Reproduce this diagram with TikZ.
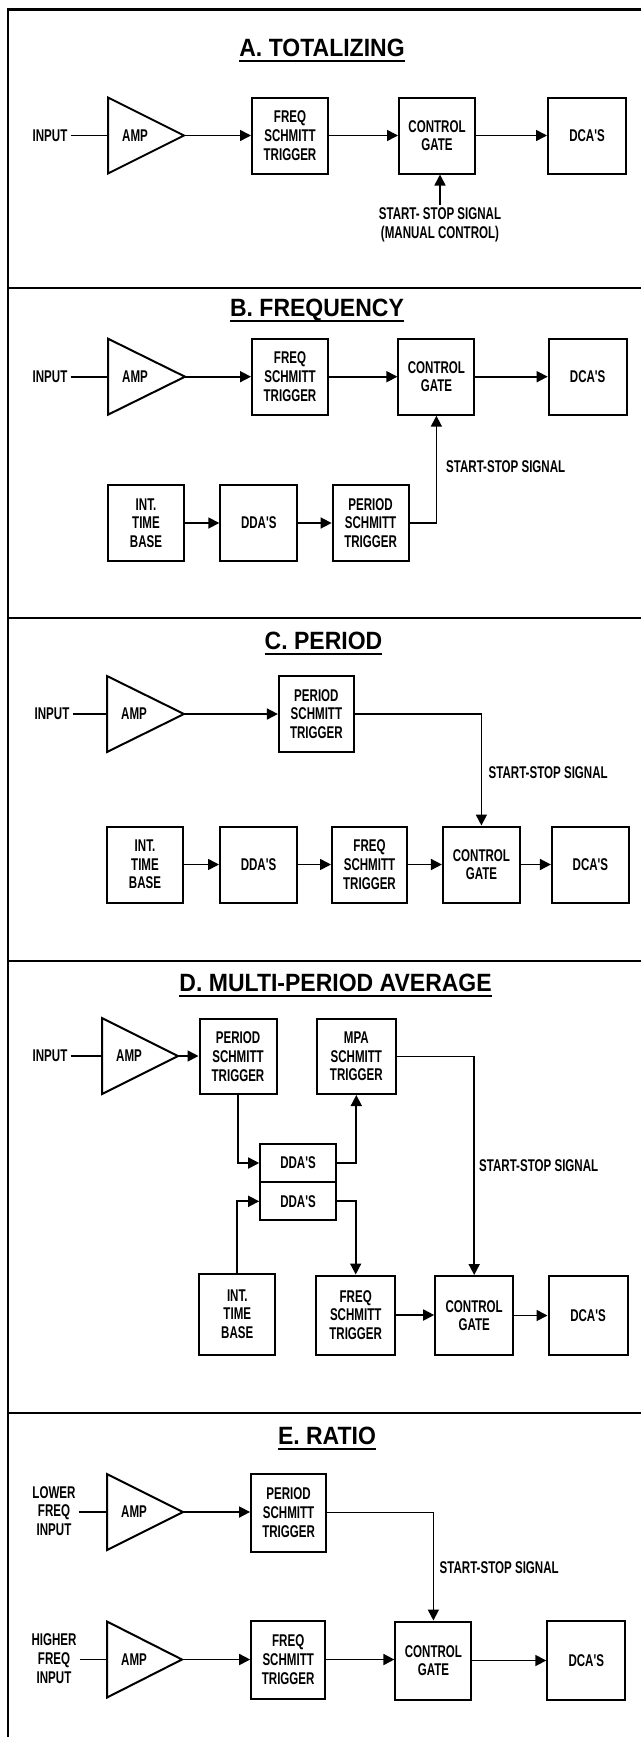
\documentclass[tikz,border=0pt]{standalone}
\usepackage{fontspec}
\newfontfamily\lblfont[FakeStretch=0.68]{Liberation Sans}
\newfontfamily\ttlfont[FakeStretch=0.92]{Liberation Sans}
\usetikzlibrary{arrows.meta}
\tikzset{
  blk/.style={draw, line width=2pt, minimum width=76pt, minimum height=76pt, inner sep=0pt, align=center,
    font=\lblfont\bfseries\fontsize{17}{18.7}\selectfont},
  lbl/.style={inner sep=3pt, align=center, font=\lblfont\bfseries\fontsize{17}{18.7}\selectfont},
  ttl/.style={inner sep=0pt, font=\ttlfont\bfseries\fontsize{25}{28}\selectfont},
  wire/.style={line width=1.7pt},
  arr/.style={wire, -{Triangle[length=11pt,width=11pt]}},
  divider/.style={line width=2pt},
}
\newcommand\ampsym[4]{%
  \draw[line width=2pt, line join=miter] (#2,#3-38) -- (#2+#4,#3) -- (#2,#3+38) -- cycle;
  \coordinate (#1-in) at (#2,#3);
  \coordinate (#1-out) at (#2+#4,#3);
  \node[lbl] (#1) at (#2+27,#3) {AMP};
}
\newcommand\paneltitle[4]{%
  \node[ttl, anchor=base] (#1) at (#2,#3) {#4};
  \draw[line width=2pt] ([yshift=-4.5pt]#1.base west) -- ([yshift=-4.5pt]#1.base east);
}
\begin{document}
\begin{tikzpicture}[x=1pt,y=-1pt]
\useasboundingbox (0,0) rectangle (641,1737);
\fill[white] (0,0) rectangle (641,1737);
% frame and dividers
\draw[divider, line width=2.4pt] (641,9.5) -- (8,9.5) -- (8,1737);
\draw[divider] (8,288) -- (641,288);
\draw[divider] (8,618) -- (641,618);
\draw[divider] (8,961) -- (641,961);
\draw[divider] (8,1413) -- (641,1413);

% ---------------- A. TOTALIZING
\paneltitle{tA}{322}{56.5}{A.\ TOTALIZING}
\node[lbl] (inA) at (50,135.5) {INPUT};
\ampsym{ampA}{108}{135.5}{76}
\node[blk] (frA) at (290,135.5) {FREQ\\SCHMITT\\TRIGGER};
\node[blk] (cgA) at (437,135.5) {CONTROL\\GATE};
\node[blk, minimum width=78pt] (dcA) at (587,135.5) {DCA'S};
\node[lbl] (sgA) at (440,225) {START- STOP SIGNAL\\(MANUAL CONTROL)};
\draw[wire] (inA.east) -- (ampA-in);
\draw[arr] (ampA-out) -- (frA.west);
\draw[arr] (frA.east) -- (cgA.west);
\draw[arr] (cgA.east) -- (dcA.west);
\draw[arr] (sgA.north) -- (sgA.north |- cgA.south);

% ---------------- B. FREQUENCY
\paneltitle{tB}{317}{316}{B.\ FREQUENCY}
\node[lbl] (inB) at (50,376.7) {INPUT};
\ampsym{ampB}{108}{376.7}{77}
\node[blk] (frB) at (290,376.7) {FREQ\\SCHMITT\\TRIGGER};
\node[blk] (cgB) at (436.4,376.7) {CONTROL\\GATE};
\node[blk, minimum width=78pt] (dcB) at (587.7,376.7) {DCA'S};
\node[blk] (itB) at (146,523) {INT.\\TIME\\BASE};
\node[blk, minimum width=77pt] (ddB) at (258.8,523) {DDA'S};
\node[blk] (pSB) at (370.6,523) {PERIOD\\SCHMITT\\TRIGGER};
\node[lbl, anchor=west] (sgB) at (443,467) {START-STOP SIGNAL};
\draw[wire] (inB.east) -- (ampB-in);
\draw[arr] (ampB-out) -- (frB.west);
\draw[arr] (frB.east) -- (cgB.west);
\draw[arr] (cgB.east) -- (dcB.west);
\draw[arr] (itB.east) -- (ddB.west);
\draw[arr] (ddB.east) -- (pSB.west);
\draw[arr] (pSB.east) -| (cgB.south);

% ---------------- C. PERIOD
\paneltitle{tC}{323.5}{649.3}{C.\ PERIOD}
\node[lbl] (inC) at (52,714) {INPUT};
\ampsym{ampC}{107}{714}{77}
\node[blk, minimum width=75pt] (pSC) at (316.4,714) {PERIOD\\SCHMITT\\TRIGGER};
\node[blk] (itC) at (145,864.5) {INT.\\TIME\\BASE};
\node[blk, minimum width=77pt] (ddC) at (258.5,864.5) {DDA'S};
\node[blk, minimum width=75pt] (frC) at (369.5,864.5) {FREQ\\SCHMITT\\TRIGGER};
\node[blk, minimum width=77pt] (cgC) at (481.4,864.5) {CONTROL\\GATE};
\node[blk, minimum width=77pt] (dcC) at (590.4,864.5) {DCA'S};
\node[lbl, anchor=west] (sgC) at (485.5,772.5) {START-STOP SIGNAL};
\draw[wire] (inC.east) -- (ampC-in);
\draw[arr] (ampC-out) -- (pSC.west);
\draw[arr] (pSC.east) -| (cgC.north);
\draw[arr] (itC.east) -- (ddC.west);
\draw[arr] (ddC.east) -- (frC.west);
\draw[arr] (frC.east) -- (cgC.west);
\draw[arr] (cgC.east) -- (dcC.west);

% ---------------- D. MULTI-PERIOD AVERAGE
\paneltitle{tD}{335.6}{991.7}{D.\ MULTI-PERIOD AVERAGE}
\node[lbl] (inD) at (50,1056) {INPUT};
\ampsym{ampD}{102}{1056}{76}
\node[blk, minimum width=77pt, minimum height=75pt] (pSD) at (238,1056.5) {PERIOD\\SCHMITT\\TRIGGER};
\node[blk, minimum width=79pt, minimum height=75pt] (mpD) at (356.3,1056.5) {MPA\\SCHMITT\\TRIGGER};
\node[blk, minimum width=75.6pt, minimum height=38.3pt] (duD) at (298,1163) {DDA'S};
\node[blk, minimum width=75.6pt, minimum height=38.3pt] (dlD) at (298,1201.3) {DDA'S};
\node[blk, minimum width=76pt, minimum height=81pt] (itD) at (237.3,1314) {INT.\\TIME\\BASE};
\node[blk, minimum width=79pt, minimum height=79pt] (frD) at (355.7,1315) {FREQ\\SCHMITT\\TRIGGER};
\node[blk, minimum width=78pt, minimum height=79pt] (cgD) at (474.2,1315.5) {CONTROL\\GATE};
\node[blk, minimum width=79pt, minimum height=79pt] (dcD) at (588,1315.5) {DCA'S};
\node[lbl, anchor=west] (sgD) at (476,1165.7) {START-STOP SIGNAL};
\draw[wire] (inD.east) -- (ampD-in);
\draw[arr] (ampD-out) -- (ampD-out -| pSD.west);
\draw[arr] (pSD.south) |- (duD.west);
\draw[arr] (duD.east) -| (mpD.south);
\draw[arr] (mpD.east) -| (cgD.north);
\draw[arr] (itD.north) |- (dlD.west);
\draw[arr] (dlD.east) -| (frD.north);
\draw[arr] (frD.east) -- (frD.east -| cgD.west);
\draw[arr] (cgD.east) -- (dcD.west);

% ---------------- E. RATIO
\paneltitle{tE}{327}{1444}{E.\ RATIO}
\node[lbl] (inE1) at (54,1511) {LOWER\\FREQ\\INPUT};
\ampsym{ampE1}{107}{1512}{76}
\node[blk, minimum width=75pt, minimum height=78pt] (pSE) at (288.6,1512.5) {PERIOD\\SCHMITT\\TRIGGER};
\node[lbl] (inE2) at (54,1658.5) {HIGHER\\FREQ\\INPUT};
\ampsym{ampE2}{107}{1659.5}{75}
\node[blk, minimum width=74pt, minimum height=78pt] (frE) at (288.2,1659.5) {FREQ\\SCHMITT\\TRIGGER};
\node[blk, minimum width=76pt, minimum height=78pt] (cgE) at (433.4,1660.5) {CONTROL\\GATE};
\node[blk, minimum width=78pt, minimum height=79pt] (dcE) at (586.3,1660.5) {DCA'S};
\node[lbl, anchor=west] (sgE) at (436.5,1568) {START-STOP SIGNAL};
\draw[wire] (inE1.east |- ampE1-in) -- (ampE1-in);
\draw[arr] (ampE1-out) -- (ampE1-out -| pSE.west);
\draw[arr] (pSE.east) -| (cgE.north);
\draw[wire] (inE2.east |- ampE2-in) -- (ampE2-in);
\draw[arr] (ampE2-out) -- (frE.west);
\draw[arr] (frE.east) -- (frE.east -| cgE.west);
\draw[arr] (cgE.east) -- (dcE.west);
\end{tikzpicture}
\end{document}
